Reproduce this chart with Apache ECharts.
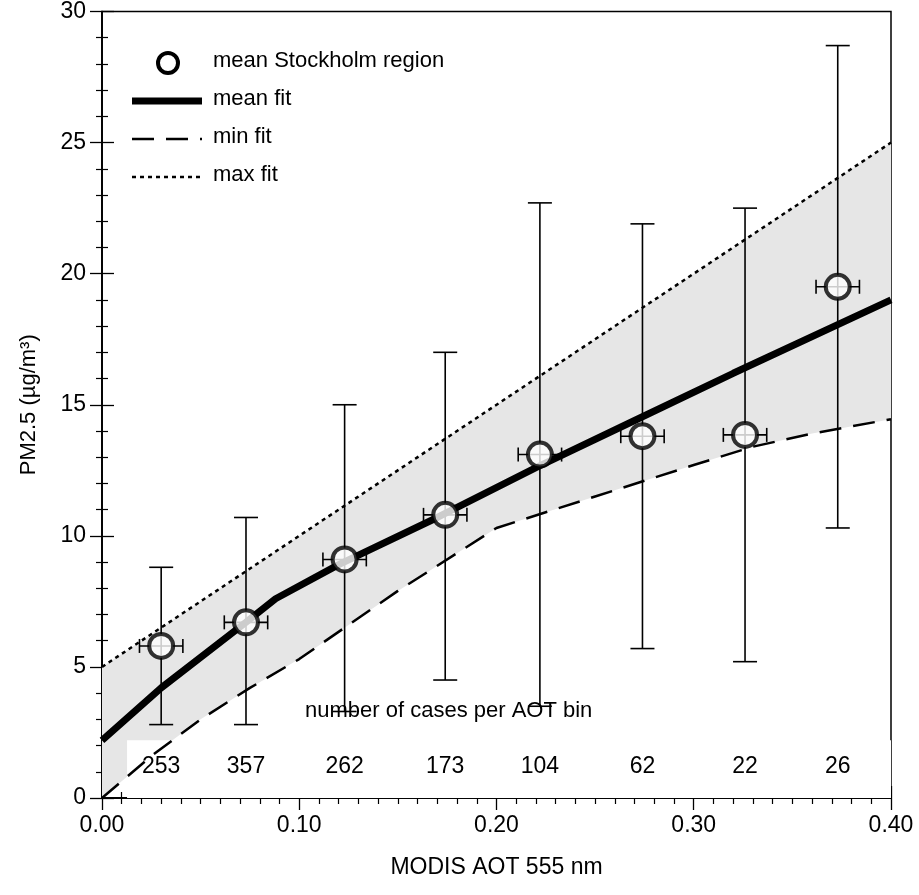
<!DOCTYPE html>
<html><head><meta charset="utf-8">
<script src="https://cdn.jsdelivr.net/npm/echarts@6/dist/echarts.min.js"></script>
<style>html,body{margin:0;padding:0;background:#fff}#c{width:919px;height:895px}</style>
</head><body><div id="c"></div>
<script>
const meanX = [0.030, 0.073, 0.123, 0.174, 0.222, 0.274, 0.326, 0.373];
const meanY = [5.8, 6.7, 9.1, 10.8, 13.1, 13.8, 13.85, 19.5];
const yLow  = [2.8, 2.8, 3.3, 4.5, 3.5, 5.7, 5.2, 10.3];
const yHigh = [8.8, 10.7, 15.0, 17.0, 22.7, 21.9, 22.5, 28.7];
const xErr  = [0.011, 0.011, 0.011, 0.011, 0.011, 0.011, 0.011, 0.011];
const cases = ['253','357','262','173','104','62','22','26'];
const meanFit = [[0,2.2],[0.03,4.2],[0.073,6.7],[0.088,7.6],[0.12,8.9],[0.17,10.7],[0.22,12.6],[0.27,14.4],[0.32,16.2],[0.4,19.0]];
const minFit = [[0,0],[0.025,1.6],[0.05,3.0],[0.075,4.2],[0.1,5.3],[0.15,7.9],[0.2,10.3],[0.25,11.5],[0.3,12.7],[0.33,13.4],[0.36,13.9],[0.4,14.45]];
const maxFit = [[0,5],[0.4,25]];

const chart = echarts.init(document.getElementById('c'));
const F = 'Liberation Sans, Arial, sans-serif';
const axisCommon = {
  axisLine:{show:true,lineStyle:{color:'#000',width:1.5}},
  axisTick:{show:true,inside:true,length:12,lineStyle:{color:'#000',width:1.3}},
  minorTick:{show:true,length:6,lineStyle:{color:'#000',width:1.2}},
  splitLine:{show:false}
};
chart.setOption({
  animation:false,
  grid:{left:102,right:28,top:11,bottom:97,show:true,borderColor:'#000',borderWidth:1.5},
  xAxis:[Object.assign({type:'value',min:0,max:0.4,interval:0.1,name:'MODIS AOT 555 nm',nameLocation:'middle',nameGap:58,
    nameTextStyle:{fontFamily:F,fontSize:23,color:'#000'},
    axisLabel:{fontFamily:F,fontSize:23,color:'#000',margin:16,formatter:v=>v.toFixed(2)}},axisCommon,{minorTick:Object.assign({},axisCommon.minorTick,{splitNumber:10})}),
    Object.assign({type:'value',min:0,max:0.4,interval:0.1,position:'top',axisLabel:{show:false}},axisCommon,{minorTick:Object.assign({},axisCommon.minorTick,{splitNumber:10})})],
  yAxis:[Object.assign({type:'value',min:0,max:30,interval:5,name:'PM2.5 (µg/m³)',nameLocation:'middle',nameGap:62,
    nameTextStyle:{fontFamily:F,fontSize:22,color:'#000'},
    axisLabel:{fontFamily:F,fontSize:23,color:'#000',margin:16}},axisCommon,{minorTick:Object.assign({},axisCommon.minorTick,{splitNumber:5})}),
    Object.assign({type:'value',min:0,max:30,interval:5,position:'right',axisLabel:{show:false}},axisCommon,{minorTick:Object.assign({},axisCommon.minorTick,{splitNumber:5})})],
  series:[
    {type:'custom',z:1,silent:true,data:[0],renderItem:(p,api)=>{
      const top = maxFit.map(d=>api.coord(d)).reverse();
      const bot = minFit.map(d=>api.coord(d));
      return {type:'polygon',shape:{points:bot.concat(top)},style:{fill:'#e6e6e6'}};
    }},
    {type:'custom',z:2,silent:true,data:[0],renderItem:(p,api)=>{
      const a = api.coord([0.0127,2.2]), b = api.coord([0.4,0]);
      return {type:'rect',shape:{x:a[0],y:a[1],width:b[0]-a[0],height:b[1]-a[1]},style:{fill:'#fff'}};
    }},
    {type:'line',z:3,data:maxFit,symbol:'none',lineStyle:{color:'#000',width:2.5,type:[4,4]}},
    {type:'line',z:3,data:minFit,symbol:'none',lineStyle:{color:'#000',width:2.5,type:[22,12]}},
    {type:'line',z:4,data:meanFit,symbol:'none',lineStyle:{color:'#000',width:7}},
    {type:'custom',z:5,data:meanX.map((x,i)=>[x,meanY[i],yLow[i],yHigh[i],xErr[i]]),renderItem:(p,api)=>{
      const x=api.value(0),y=api.value(1),lo=api.value(2),hi=api.value(3),e=api.value(4);
      const c=api.coord([x,y]),l=api.coord([x,lo]),h=api.coord([x,hi]),xl=api.coord([x-e,y]),xr=api.coord([x+e,y]);
      const st={stroke:'#000',lineWidth:1.6};
      const L=(x1,y1,x2,y2)=>({type:'line',shape:{x1,y1,x2,y2},style:st});
      return {type:'group',children:[
        L(c[0],l[1],c[0],h[1]),L(c[0]-12,l[1],c[0]+12,l[1]),L(c[0]-12,h[1],c[0]+12,h[1]),
        L(xl[0],c[1],xr[0],c[1]),L(xl[0],c[1]-7,xl[0],c[1]+7),L(xr[0],c[1]-7,xr[0],c[1]+7)]};
    }},
    {type:'scatter',z:6,data:meanX.map((x,i)=>[x,meanY[i]]),symbol:'circle',symbolSize:24,
      itemStyle:{color:'#fff',borderColor:'#000',borderWidth:4}},
    {type:'custom',z:6,data:meanX.map((x,i)=>[x,cases[i]]),renderItem:(p,api)=>{
      const c=api.coord([api.value(0),1.2]);
      return {type:'text',style:{text:cases[p.dataIndex],x:c[0],y:c[1],align:'center',verticalAlign:'middle',font:'23px '+F,fill:'#000'}};
    }}
  ],
  graphic:[
    {type:'text',left:305,top:700,style:{text:'number of cases per AOT bin',font:'22px '+F,fill:'#000'}},
    {type:'circle',shape:{cx:168,cy:63,r:10},style:{fill:'#fff',stroke:'#000',lineWidth:4}},
    {type:'line',shape:{x1:132,y1:101,x2:202,y2:101},style:{stroke:'#000',lineWidth:7}},
    {type:'line',shape:{x1:132,y1:139,x2:202,y2:139},style:{stroke:'#000',lineWidth:2.5,lineDash:[22,12]}},
    {type:'line',shape:{x1:132,y1:177,x2:202,y2:177},style:{stroke:'#000',lineWidth:2.5,lineDash:[4,4]}},
    {type:'text',left:213,top:50,style:{text:'mean Stockholm region',font:'22px '+F,fill:'#000'}},
    {type:'text',left:213,top:88,style:{text:'mean fit',font:'22px '+F,fill:'#000'}},
    {type:'text',left:213,top:126,style:{text:'min fit',font:'22px '+F,fill:'#000'}},
    {type:'text',left:213,top:164,style:{text:'max fit',font:'22px '+F,fill:'#000'}}
  ]
});
</script></body></html>
